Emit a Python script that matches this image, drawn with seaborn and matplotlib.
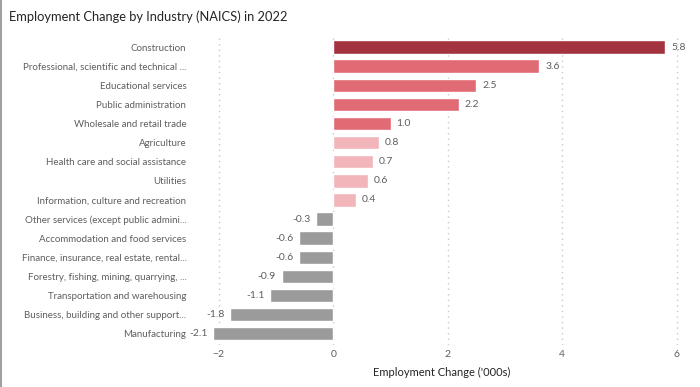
import matplotlib.pyplot as plt
import pandas as pd
import seaborn as sns
from matplotlib.lines import Line2D

industries = [
    'Construction',
    'Professional, scientific and technical ...',
    'Educational services',
    'Public administration',
    'Wholesale and retail trade',
    'Agriculture',
    'Health care and social assistance',
    'Utilities',
    'Information, culture and recreation',
    'Other services (except public admini...',
    'Accommodation and food services',
    'Finance, insurance, real estate, rental...',
    'Forestry, fishing, mining, quarrying, ...',
    'Transportation and warehousing',
    'Business, building and other support...',
    'Manufacturing',
]
change = [5.8, 3.6, 2.5, 2.2, 1.0, 0.8, 0.7, 0.6, 0.4,
          -0.3, -0.6, -0.6, -0.9, -1.1, -1.8, -2.1]
group = ['top', 'high', 'high', 'high', 'high', 'low', 'low', 'low', 'low',
         'neg', 'neg', 'neg', 'neg', 'neg', 'neg', 'neg']

df = pd.DataFrame({'industry': industries, 'change': change, 'group': group})
colors = {'top': '#A3343F', 'high': '#E06B74', 'low': '#F1B5BA', 'neg': '#9B9B9B'}

sns.set_style('white')
plt.rcParams['font.family'] = ['Lato', 'DejaVu Sans']
text_gray = '#605E5C'

fig = plt.figure(figsize=(7, 3.87), dpi=100)
ax = fig.add_axes([0.292, 0.108, 0.679, 0.8])

sns.barplot(data=df, y='industry', x='change', hue='group', palette=colors,
            saturation=1, dodge=False, legend=False, width=0.7, orient='h', ax=ax)

for i, v in enumerate(change):
    if v >= 0:
        ax.text(v + 0.1, i, f'{v:.1f}', va='center', ha='left', fontsize=7.5, color=text_gray)
    else:
        ax.text(v - 0.1, i, f'{v:.1f}', va='center', ha='right', fontsize=7.5, color=text_gray)

ax.set_xlim(-2.25, 6.05)
ax.set_ylim(len(industries) - 0.4, -0.6)
ax.set_xticks([-2, 0, 2, 4, 6])
ax.xaxis.grid(True, linestyle=(0, (1, 3)), color='#C8C8C8', linewidth=1)
ax.set_axisbelow(True)
for s in ax.spines.values():
    s.set_visible(False)
ax.tick_params(axis='x', length=0, labelsize=7.5, labelcolor=text_gray)
ax.tick_params(axis='y', length=0, labelsize=7.0, labelcolor=text_gray, pad=13)
ax.set_ylabel('')
ax.set_xlabel("Employment Change ('000s)", fontsize=8, color='#252423', labelpad=6)

fig.text(0.013, 0.957, 'Employment Change by Industry (NAICS) in 2022',
         fontsize=9.3, color='#252423', va='center', ha='left')
fig.add_artist(Line2D([0.001, 0.001], [0, 1], color='#A0A0A0', linewidth=1.5))

fig.savefig('out.png', dpi=100)
